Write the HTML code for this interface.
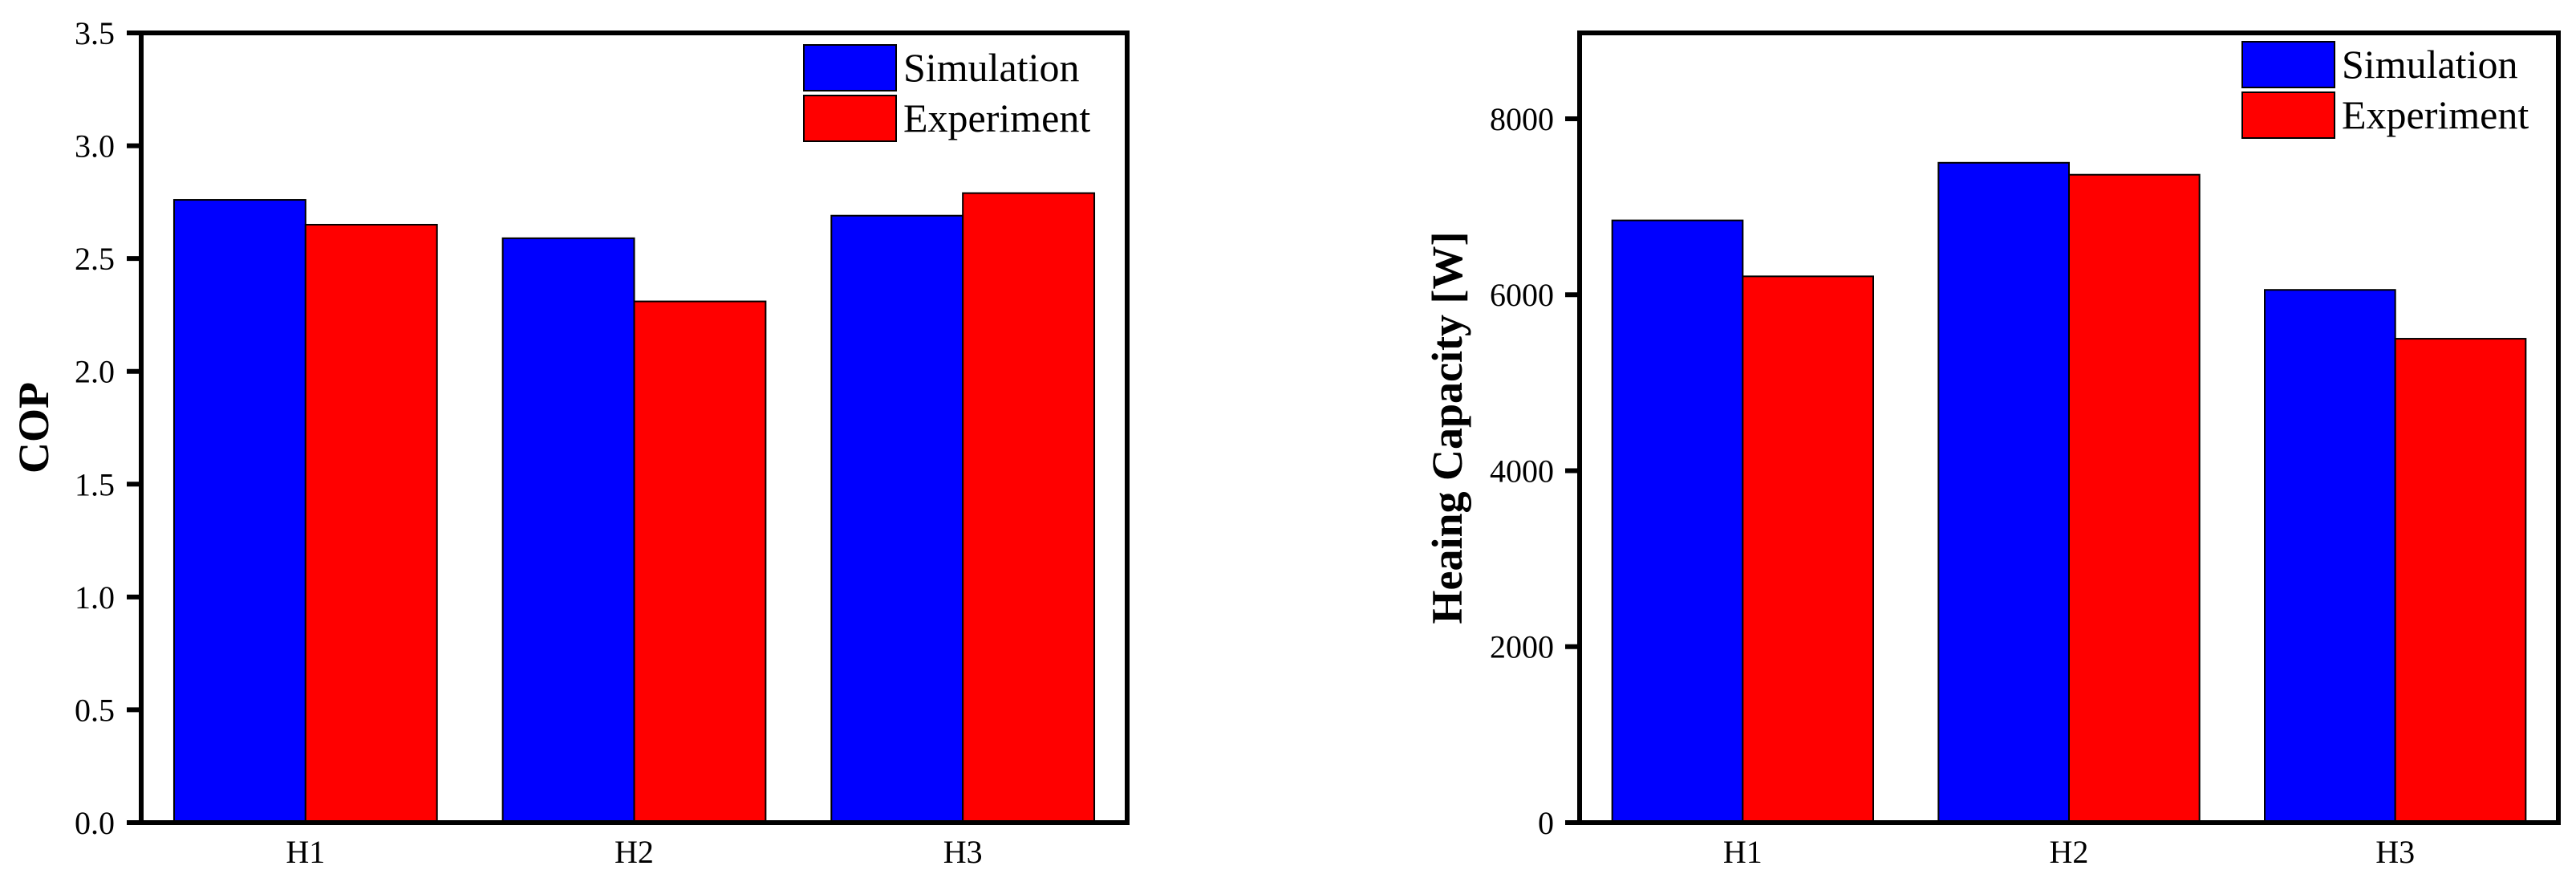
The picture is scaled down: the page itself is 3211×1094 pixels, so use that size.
<!DOCTYPE html>
<html><head><meta charset="utf-8"><style>
html,body{margin:0;padding:0;background:#fff;}
svg{display:block;font-family:"Liberation Serif",serif;}
</style></head><body>
<svg id="c" width="3211" height="1094" viewBox="0 0 3211 1094"></svg>
<script>
const categories = ["H1","H2","H3"];
const copSim = [2.76, 2.59, 2.69];
const copExp = [2.65, 2.31, 2.79];
const copTicks = ["0.0","0.5","1.0","1.5","2.0","2.5","3.0","3.5"];
const capSim = [6845, 7500, 6055];
const capExp = [6209, 7364, 5500];
const capTicks = ["0","2000","4000","6000","8000"];
const seriesNames = ["Simulation","Experiment"];

const NS="http://www.w3.org/2000/svg";
const svg=document.getElementById('c');
function mk(tag,attrs,parent){const e=document.createElementNS(NS,tag);for(const k in attrs)e.setAttribute(k,attrs[k]);(parent||svg).appendChild(e);return e;}

function chart(name,L,R,T,B,ymax,ticks,sim,exp,ylabel,ylx,legX,legY,tickLabelRight){
  const g=mk('g',{});
  
  
  const y=v=>B-(v/ymax)*(B-T);
  const unit=(R-L)/categories.length;
  const cx=i=>L+unit*(i+0.5);
  const bw=unit*0.4;
  const colors=['#0000ff','#ff0000'];
  [sim,exp].forEach((arr,s)=>{
    arr.forEach((v,i)=>{
      const x=s===0?cx(i)-bw:cx(i);
      const r=mk('rect',{x:x,y:y(v),width:bw,height:B-y(v),fill:colors[s],stroke:'#000','stroke-width':2},g);
      
      
    });
  });
  const f=mk('rect',{x:L,y:T,width:R-L,height:B-T,fill:'none',stroke:'#000','stroke-width':6},g);
  
  
  ticks.forEach(t=>{
    const v=parseFloat(t);const yy=y(v);
    mk('line',{x1:L-18,x2:L,y1:yy,y2:yy,stroke:'#000','stroke-width':6},g);
    const tx=mk('text',{x:tickLabelRight,y:yy+14,'font-size':40,'text-anchor':'end'},g);
    tx.textContent=t;
    
    
  });
  categories.forEach((c,i)=>{
    const tx=mk('text',{x:cx(i),y:B+50,'font-size':40,'text-anchor':'middle'},g);
    tx.textContent=c;
    
    
  });
  const yl=mk('text',{x:ylx,y:(T+B)/2,'font-size':54,'font-weight':'bold','text-anchor':'middle',transform:'rotate(-90 '+ylx+' '+(T+B)/2+')'},g);
  yl.textContent=ylabel;
  
  
  seriesNames.forEach((n,s)=>{
    const ly=legY+s*63;
    const r=mk('rect',{x:legX,y:ly,width:115,height:57,fill:colors[s],stroke:'#000','stroke-width':2},g);
    
    
    const t=mk('text',{x:legX+124,y:ly+45,'font-size':50},g);
    t.textContent=n;
    
    
  });
}
chart('cop-chart',176,1405,41,1025,3.5,copTicks,copSim,copExp,'COP',60,1002,56,143);
chart('capacity-chart',1969,3189,41,1025,8976,capTicks,capSim,capExp,'Heaing Capacity [W]',1822,2795,52,1937);
</script>
</body></html>
